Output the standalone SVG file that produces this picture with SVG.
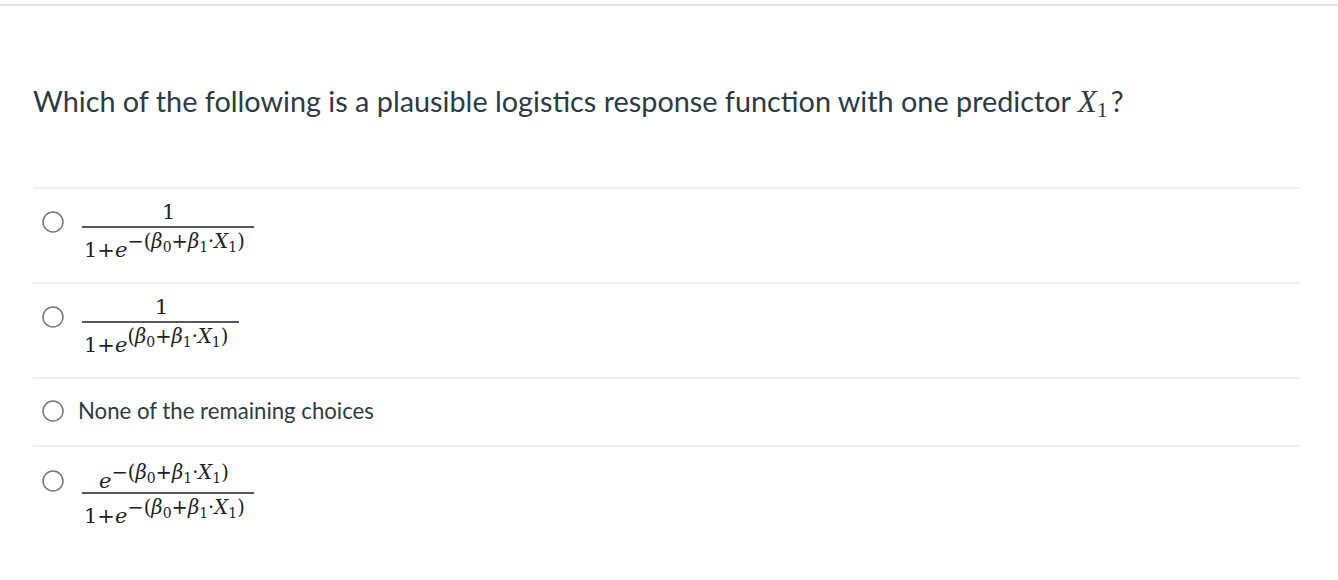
<svg xmlns="http://www.w3.org/2000/svg" width="1338" height="580" viewBox="0 0 1338 580">
<style>
.q{font-family:Lato,"Liberation Sans",sans-serif;font-size:28.8px;fill:#2d3b45}
.m{font-family:"DejaVu Serif","Liberation Serif",serif;fill:#222}
.d{font-size:21px}
.s{font-size:19.5px}
.b{font-size:14px}
.i{font-style:italic}
.sep{stroke:#e3e3e3;stroke-width:1}
.r{fill:#fff;stroke:#777;stroke-width:1.5}
.fr{stroke:#222;stroke-width:1.6}
</style>
<rect width="1338" height="580" fill="#fff"/>
<line x1="0" y1="5" x2="1338" y2="5" stroke="#c7cdd1"/>
<text class="q" x="33" y="112">Which of the following is a plausible logistics response function with one predictor <tspan font-family="Liberation Serif,serif" font-style="italic" font-size="31">X</tspan><tspan font-family="Liberation Serif,serif" font-size="22" dy="5">1</tspan><tspan dy="-5" dx="3">?</tspan></text>
<g id="sep">
<line class="sep" x1="33" y1="188" x2="1300" y2="188"/>
<line class="sep" x1="33" y1="283" x2="1300" y2="283"/>
<line class="sep" x1="33" y1="378" x2="1300" y2="378"/>
<line class="sep" x1="33" y1="446" x2="1300" y2="446"/>
</g>
<g id="opt1">
<circle class="r" cx="53" cy="222" r="10"/>
<text class="m d" x="162" y="219">1</text>
<line class="fr" x1="82" y1="227" x2="254" y2="227"/>
<text class="m" x="84" y="257"><tspan class="d">1+</tspan><tspan class="d i">e</tspan><tspan class="s" dy="-9">−(</tspan><tspan class="s i">β</tspan><tspan class="b" dy="4">0</tspan><tspan class="s" dy="-4">+</tspan><tspan class="s i">β</tspan><tspan class="b" dy="4">1</tspan><tspan class="s" dy="-4">·</tspan><tspan class="s i">X</tspan><tspan class="b" dy="4">1</tspan><tspan class="s" dy="-4">)</tspan></text>
</g>
<g id="opt2">
<circle class="r" cx="53" cy="317" r="10"/>
<text class="m d" x="155" y="314">1</text>
<line class="fr" x1="82" y1="322" x2="239" y2="322"/>
<text class="m" x="84" y="352"><tspan class="d">1+</tspan><tspan class="d i">e</tspan><tspan class="s" dy="-9">(</tspan><tspan class="s i">β</tspan><tspan class="b" dy="4">0</tspan><tspan class="s" dy="-4">+</tspan><tspan class="s i">β</tspan><tspan class="b" dy="4">1</tspan><tspan class="s" dy="-4">·</tspan><tspan class="s i">X</tspan><tspan class="b" dy="4">1</tspan><tspan class="s" dy="-4">)</tspan></text>
</g>
<g id="opt3">
<circle class="r" cx="53" cy="411" r="10"/>
<text class="q" x="78" y="419" style="font-size:22.2px">None of the remaining choices</text>
</g>
<g id="opt4">
<circle class="r" cx="53" cy="481" r="10"/>
<text class="m" x="99" y="488"><tspan class="d i">e</tspan><tspan class="s" dy="-9">−(</tspan><tspan class="s i">β</tspan><tspan class="b" dy="4">0</tspan><tspan class="s" dy="-4">+</tspan><tspan class="s i">β</tspan><tspan class="b" dy="4">1</tspan><tspan class="s" dy="-4">·</tspan><tspan class="s i">X</tspan><tspan class="b" dy="4">1</tspan><tspan class="s" dy="-4">)</tspan></text>
<line class="fr" x1="82" y1="493" x2="254" y2="493"/>
<text class="m" x="84" y="523"><tspan class="d">1+</tspan><tspan class="d i">e</tspan><tspan class="s" dy="-9">−(</tspan><tspan class="s i">β</tspan><tspan class="b" dy="4">0</tspan><tspan class="s" dy="-4">+</tspan><tspan class="s i">β</tspan><tspan class="b" dy="4">1</tspan><tspan class="s" dy="-4">·</tspan><tspan class="s i">X</tspan><tspan class="b" dy="4">1</tspan><tspan class="s" dy="-4">)</tspan></text>
</g>
</svg>
